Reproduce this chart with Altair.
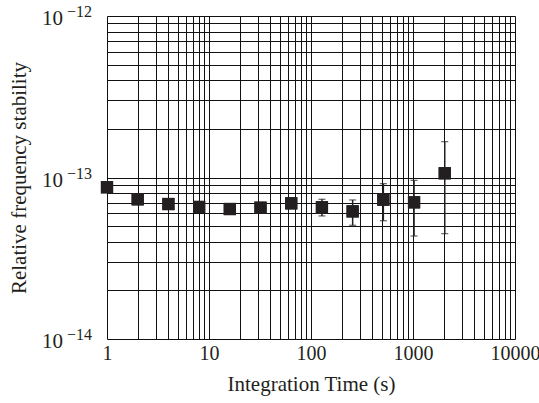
import altair as alt
import pandas as pd

tau = [1, 2, 4, 8, 16, 32, 64, 128, 256, 512, 1024, 2048]
adev = [8.7e-14, 7.33e-14, 6.85e-14, 6.57e-14, 6.38e-14, 6.5e-14, 6.92e-14,
        6.54e-14, 6.17e-14, 7.29e-14, 7.02e-14, 1.062e-13]
err_lo = [None, None, None, None, None, None, None,
          5.78e-14, 5.06e-14, 5.4e-14, 4.34e-14, 4.49e-14]
err_hi = [None, None, None, None, None, None, None,
          7.33e-14, 7.26e-14, 9.16e-14, 9.6e-14, 1.667e-13]

x_grid = [m * 10 ** d for d in range(0, 4) for m in range(1, 10)] + [10000]
y_grid = [m * 10.0 ** d for d in (-14, -13) for m in range(1, 10)] + [1e-12]
y_labels = [1e-14, 1e-13, 1e-12]
y_exp = ["\u221214", "\u221213", "\u221212"]

df = pd.DataFrame({"tau": tau, "adev": adev, "lo": err_lo, "hi": err_hi})
err_df = df.dropna()
lab_df = pd.DataFrame({"v": y_labels, "exp": y_exp})

FONT = "Liberation Serif"
INK = "#231f20"

xscale = alt.Scale(type="log", domain=[1, 10000], nice=False)
yscale = alt.Scale(type="log", domain=[1e-14, 1e-12], nice=False)

base = alt.Chart(df)

points = base.mark_square(size=150, color=INK, opacity=1).encode(
    x=alt.X("tau:Q", scale=xscale,
            axis=alt.Axis(values=x_grid, title="Integration Time (s)",
                          labelExpr="indexof(['1','10','100','1000','10000'], datum.label) >= 0 ? datum.label : ''",
                          format="d", grid=True, gridColor="#111", gridOpacity=1, gridWidth=1,
                          ticks=False, domain=False, labelPadding=4,
                          labelFont=FONT, labelFontSize=20, labelColor=INK,
                          titleFont=FONT, titleFontSize=21, titleFontWeight="normal",
                          titleColor=INK, titlePadding=10, labelFlush=False)),
    y=alt.Y("adev:Q", scale=yscale,
            axis=alt.Axis(values=y_grid, title="Relative frequency stability",
                          labels=False, grid=True, gridColor="#111", gridOpacity=1,
                          gridWidth=1, ticks=False, domain=False,
                          titleFont=FONT, titleFontSize=21, titleFontWeight="normal",
                          titleColor=INK, titlePadding=78)),
)

rules = alt.Chart(err_df).mark_rule(color=INK, strokeWidth=1.5).encode(
    x="tau:Q", y="lo:Q", y2="hi:Q")
cap_lo = alt.Chart(err_df).mark_tick(color=INK, orient="horizontal", size=7, thickness=1.2).encode(
    x="tau:Q", y="lo:Q")
cap_hi = alt.Chart(err_df).mark_tick(color=INK, orient="horizontal", size=7, thickness=1.2).encode(
    x="tau:Q", y="hi:Q")

lab_base = alt.Chart(lab_df).encode(y=alt.Y("v:Q", scale=yscale))
lab10 = lab_base.mark_text(text="10", font=FONT, fontSize=21, color=INK,
                           align="right", baseline="alphabetic", dy=9).encode(x=alt.value(-44))
labexp = lab_base.mark_text(font=FONT, fontSize=16, color=INK, align="left",
                            baseline="alphabetic", dy=1).encode(x=alt.value(-40), text="exp:N")

chart = alt.layer(points, rules, cap_lo, cap_hi, points, lab10, labexp).properties(
    width=408, height=323,
    autosize=alt.AutoSizeParams(type="none"),
    padding={"left": 107, "top": 16, "right": 24, "bottom": 64},
).configure_view(stroke="#111", strokeWidth=1.2).configure(background="white")

chart.save("out.html", embed_options={"renderer": "svg", "actions": False})
